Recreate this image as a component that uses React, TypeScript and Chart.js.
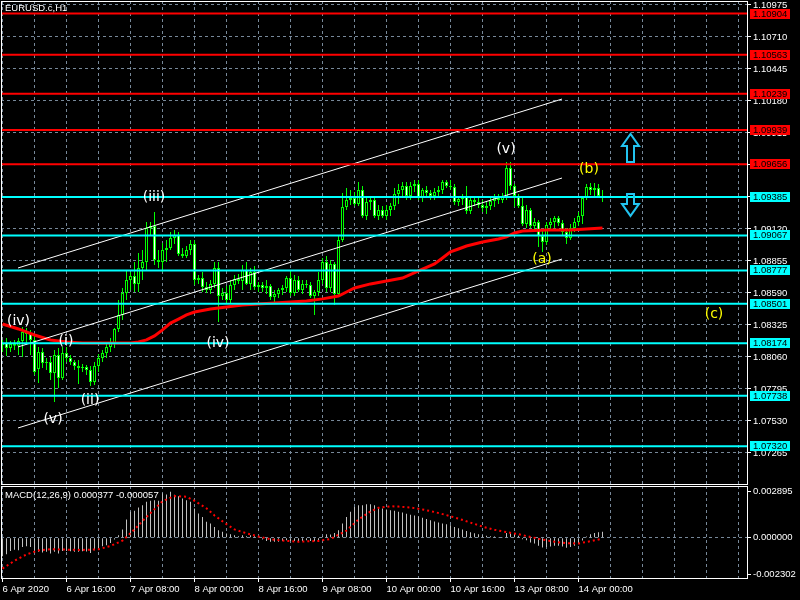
import React, { useEffect, useRef } from "react";
import { Chart, registerables } from "chart.js";

Chart.register(...registerables);

// ---------------- data (EURUSD.c, H1, one value per hourly bar) ----------------
const opens = [
  1.08160, 1.08176, 1.08135, 1.08168, 1.08152, 1.08193, 1.08267, 1.08250, 1.08201, 1.07960,
  1.08101, 1.08010, 1.08019, 1.07928, 1.08077, 1.07886, 1.08093, 1.08052, 1.08019, 1.07986,
  1.07969, 1.07977, 1.07952, 1.07853, 1.07986, 1.08052, 1.08093, 1.08143, 1.08176, 1.08292,
  1.08408, 1.08590, 1.08698, 1.08731, 1.08665, 1.08797, 1.08847, 1.09128, 1.09145, 1.08863,
  1.08847, 1.08946, 1.08963, 1.09045, 1.09070, 1.08913, 1.08896, 1.08946, 1.08996, 1.08698,
  1.08714, 1.08640, 1.08615, 1.08665, 1.08797, 1.08565, 1.08590, 1.08532, 1.08656, 1.08706,
  1.08689, 1.08780, 1.08665, 1.08764, 1.08640, 1.08656, 1.08631, 1.08648, 1.08557, 1.08582,
  1.08615, 1.08631, 1.08714, 1.08590, 1.08698, 1.08615, 1.08665, 1.08656, 1.08565, 1.08598,
  1.08698, 1.08847, 1.08631, 1.08830, 1.08582, 1.09029, 1.09302, 1.09360, 1.09377, 1.09327,
  1.09443, 1.09228, 1.09344, 1.09360, 1.09228, 1.09277, 1.09228, 1.09277, 1.09310, 1.09410,
  1.09443, 1.09476, 1.09393, 1.09476, 1.09492, 1.09377, 1.09443, 1.09418, 1.09393, 1.09426,
  1.09443, 1.09509, 1.09476, 1.09468, 1.09344, 1.09368, 1.09385, 1.09269, 1.09360, 1.09344,
  1.09319, 1.09294, 1.09310, 1.09352, 1.09377, 1.09360, 1.09385, 1.09625, 1.09476, 1.09393,
  1.09310, 1.09161, 1.09277, 1.09145, 1.09178, 1.09062, 1.09012, 1.09153, 1.09178, 1.09211,
  1.09170, 1.09095, 1.09045, 1.09128, 1.09178, 1.09228, 1.09377, 1.09468, 1.09443, 1.09459,
  1.09393,
];
const highs = [
  1.08201, 1.08218, 1.08193, 1.08201, 1.08218, 1.08308, 1.08300, 1.08284, 1.08242, 1.08143,
  1.08135, 1.08052, 1.08060, 1.08118, 1.08135, 1.08143, 1.08143, 1.08077, 1.08035, 1.08035,
  1.08002, 1.07994, 1.07986, 1.08019, 1.08085, 1.08118, 1.08168, 1.08218, 1.08300, 1.08532,
  1.08631, 1.08780, 1.08764, 1.08847, 1.08921, 1.08946, 1.09178, 1.09178, 1.09261, 1.08946,
  1.09004, 1.09029, 1.09095, 1.09112, 1.09095, 1.08963, 1.08979, 1.09029, 1.09029, 1.08739,
  1.08764, 1.08681, 1.08698, 1.08847, 1.08847, 1.08631, 1.08648, 1.08698, 1.08739, 1.08747,
  1.08822, 1.08847, 1.08797, 1.08814, 1.08681, 1.08681, 1.08698, 1.08665, 1.08615, 1.08631,
  1.08656, 1.08730, 1.08780, 1.08739, 1.08730, 1.08698, 1.08698, 1.08681, 1.08615, 1.08764,
  1.08880, 1.08896, 1.08863, 1.08847, 1.09062, 1.09418, 1.09459, 1.09443, 1.09426, 1.09509,
  1.09476, 1.09393, 1.09393, 1.09377, 1.09319, 1.09310, 1.09319, 1.09335, 1.09459, 1.09492,
  1.09509, 1.09509, 1.09509, 1.09526, 1.09526, 1.09459, 1.09476, 1.09443, 1.09459, 1.09476,
  1.09526, 1.09526, 1.09526, 1.09492, 1.09393, 1.09410, 1.09476, 1.09393, 1.09393, 1.09377,
  1.09360, 1.09344, 1.09377, 1.09410, 1.09410, 1.09418, 1.09675, 1.09675, 1.09492, 1.09410,
  1.09377, 1.09319, 1.09294, 1.09211, 1.09194, 1.09112, 1.09178, 1.09211, 1.09228, 1.09228,
  1.09194, 1.09128, 1.09161, 1.09211, 1.09261, 1.09393, 1.09492, 1.09501, 1.09501, 1.09492,
  1.09443,
];
const lows = [
  1.08101, 1.08069, 1.08101, 1.08118, 1.08077, 1.08060, 1.08160, 1.08077, 1.07911, 1.07845,
  1.07969, 1.07952, 1.07870, 1.07688, 1.07803, 1.07870, 1.08019, 1.07994, 1.07952, 1.07837,
  1.07935, 1.07911, 1.07820, 1.07828, 1.07935, 1.08019, 1.08052, 1.08101, 1.08135, 1.08267,
  1.08366, 1.08532, 1.08615, 1.08598, 1.08598, 1.08698, 1.08780, 1.09062, 1.08822, 1.08797,
  1.08764, 1.08847, 1.08946, 1.08996, 1.08896, 1.08880, 1.08880, 1.08905, 1.08656, 1.08665,
  1.08598, 1.08590, 1.08582, 1.08631, 1.08350, 1.08532, 1.08499, 1.08507, 1.08615, 1.08665,
  1.08615, 1.08656, 1.08615, 1.08615, 1.08598, 1.08598, 1.08582, 1.08532, 1.08516, 1.08549,
  1.08574, 1.08598, 1.08565, 1.08565, 1.08598, 1.08582, 1.08631, 1.08549, 1.08408, 1.08565,
  1.08665, 1.08598, 1.08598, 1.08491, 1.08565, 1.09012, 1.09277, 1.09319, 1.09310, 1.09310,
  1.09211, 1.09194, 1.09277, 1.09211, 1.09194, 1.09211, 1.09194, 1.09228, 1.09277, 1.09327,
  1.09393, 1.09360, 1.09360, 1.09426, 1.09360, 1.09344, 1.09393, 1.09360, 1.09360, 1.09393,
  1.09410, 1.09459, 1.09443, 1.09319, 1.09310, 1.09319, 1.09244, 1.09244, 1.09310, 1.09294,
  1.09261, 1.09244, 1.09277, 1.09302, 1.09327, 1.09335, 1.09360, 1.09443, 1.09302, 1.09294,
  1.09145, 1.09128, 1.09128, 1.09095, 1.08971, 1.08930, 1.08987, 1.09112, 1.09128, 1.09145,
  1.09070, 1.08996, 1.09029, 1.09095, 1.09145, 1.09161, 1.09360, 1.09401, 1.09393, 1.09385,
  1.09344,
];
const closes = [
  1.08176, 1.08135, 1.08168, 1.08152, 1.08193, 1.08267, 1.08250, 1.08201, 1.07935, 1.08101,
  1.08010, 1.08019, 1.07928, 1.08077, 1.07886, 1.08093, 1.08052, 1.08019, 1.07986, 1.07969,
  1.07977, 1.07952, 1.07853, 1.07986, 1.08052, 1.08093, 1.08143, 1.08176, 1.08292, 1.08408,
  1.08590, 1.08698, 1.08731, 1.08665, 1.08797, 1.08847, 1.09128, 1.09145, 1.08863, 1.08847,
  1.08946, 1.08963, 1.09045, 1.09070, 1.08913, 1.08896, 1.08946, 1.08996, 1.08698, 1.08714,
  1.08640, 1.08615, 1.08665, 1.08797, 1.08565, 1.08590, 1.08532, 1.08656, 1.08706, 1.08689,
  1.08780, 1.08665, 1.08764, 1.08640, 1.08656, 1.08631, 1.08648, 1.08557, 1.08582, 1.08615,
  1.08631, 1.08714, 1.08590, 1.08698, 1.08615, 1.08665, 1.08656, 1.08565, 1.08598, 1.08698,
  1.08847, 1.08631, 1.08830, 1.08582, 1.09029, 1.09302, 1.09360, 1.09377, 1.09327, 1.09443,
  1.09228, 1.09344, 1.09360, 1.09228, 1.09277, 1.09228, 1.09277, 1.09310, 1.09410, 1.09443,
  1.09476, 1.09393, 1.09476, 1.09492, 1.09377, 1.09443, 1.09418, 1.09393, 1.09426, 1.09443,
  1.09509, 1.09476, 1.09468, 1.09344, 1.09368, 1.09385, 1.09269, 1.09360, 1.09344, 1.09319,
  1.09294, 1.09310, 1.09352, 1.09377, 1.09360, 1.09385, 1.09625, 1.09476, 1.09393, 1.09310,
  1.09161, 1.09277, 1.09145, 1.09178, 1.09062, 1.09012, 1.09153, 1.09178, 1.09211, 1.09170,
  1.09095, 1.09045, 1.09128, 1.09178, 1.09228, 1.09377, 1.09468, 1.09443, 1.09459, 1.09393,
  1.09385,
];

// moving average (red), sampled at bar indices
const maBars = [
  0, 4, 8, 12, 16, 20, 24, 28, 32, 34, 36, 38, 40, 42, 44, 46, 48, 52, 56, 60, 64, 68, 72,
  76, 80, 84, 86, 88, 92, 96, 100, 104, 108, 110, 112, 114, 116, 120, 124, 126, 128, 130,
  136, 142, 146, 150,
];
const maValues = [
  1.08333, 1.08292, 1.08242, 1.08201, 1.08184, 1.08176, 1.08176, 1.08176, 1.08176, 1.08184,
  1.08201, 1.08234, 1.08284, 1.08341, 1.08374, 1.08408, 1.08432, 1.08457, 1.08474, 1.08491,
  1.08499, 1.08507, 1.08516, 1.08524, 1.08541, 1.08565, 1.08598, 1.08631, 1.08665, 1.08689,
  1.08714, 1.08772, 1.08830, 1.08880, 1.08930, 1.08954, 1.08979, 1.09012, 1.09037, 1.09054,
  1.09087, 1.09103, 1.09112, 1.09112, 1.09120, 1.09128,
];

// MACD(12,26,9) main (histogram), one per bar
const macdMain = [
  -0.00116, -0.00104, -0.00083, -0.00075, -0.00079, -0.00058, -0.00054, -0.00058, -0.00096, -0.00089,
  -0.00093, -0.00089, -0.00100, -0.00089, -0.00100, -0.00083, -0.00083, -0.00085, -0.00089, -0.00089,
  -0.00085, -0.00087, -0.00096, -0.00079, -0.00068, -0.00054, -0.00047, -0.00033, -0.00012, 0.00016,
  0.00051, 0.00114, 0.00163, 0.00169, 0.00190, 0.00205, 0.00226, 0.00232, 0.00236, 0.00232,
  0.00280, 0.00272, 0.00289, 0.00270, 0.00261, 0.00247, 0.00236, 0.00226, 0.00184, 0.00152,
  0.00131, 0.00100, 0.00089, 0.00068, 0.00047, 0.00037, 0.00026, 0.00022, 0.00016, 0.00009,
  0.00016, 0.00009, 0.00016, 0.00009, 0.00005, -0.00012, -0.00020, -0.00026, -0.00026, -0.00026,
  -0.00020, -0.00016, -0.00020, -0.00020, -0.00022, -0.00020, -0.00016, -0.00020, -0.00022, -0.00016,
  0.00009, 0.00022, 0.00020, 0.00030, 0.00047, 0.00089, 0.00131, 0.00163, 0.00194, 0.00205,
  0.00205, 0.00211, 0.00211, 0.00205, 0.00194, 0.00184, 0.00177, 0.00173, 0.00169, 0.00163,
  0.00158, 0.00150, 0.00145, 0.00140, 0.00133, 0.00125, 0.00118, 0.00110, 0.00102, 0.00095,
  0.00090, 0.00084, 0.00078, 0.00068, 0.00060, 0.00052, 0.00042, 0.00035, 0.00028, 0.00022,
  0.00016, 0.00012, 0.00009, 0.00007, 0.00005, 0.00004, 0.00030, 0.00032, 0.00025, 0.00012,
  -0.00010, -0.00016, -0.00030, -0.00036, -0.00050, -0.00062, -0.00058, -0.00056, -0.00050, -0.00050,
  -0.00056, -0.00063, -0.00058, -0.00050, -0.00040, -0.00018, 0.00008, 0.00022, 0.00030, 0.00034,
  0.000377,
];
// MACD signal (red dotted), sampled at bar indices
const signalBars = [
  0, 3, 6, 9, 12, 16, 20, 24, 27, 30, 33, 35, 38, 40, 43, 46, 48, 51, 53, 56, 58, 61, 64,
  67, 71, 74, 79, 82, 86, 89, 92, 94, 97, 99, 102, 105, 108, 111, 114, 117, 120, 123, 126,
  129, 132, 135, 138, 141, 144, 147, 150,
];
const signalValues = [
  -0.00194, -0.00145, -0.00105, -0.00080, -0.00072, -0.00075, -0.00077, -0.00073, -0.00052, -0.00018,
  0.00052, 0.00105, 0.00180, 0.00230, 0.00262, 0.00258, 0.00232, 0.00185, 0.00140, 0.00085,
  0.00052, 0.00028, 0.00008, -0.00010, -0.00020, -0.00025, -0.00020, -0.00008, 0.00045, 0.00115,
  0.00165, 0.00188, 0.00198, 0.00196, 0.00190, 0.00178, 0.00162, 0.00142, 0.00120, 0.00095,
  0.00070, 0.00050, 0.00035, 0.00022, 0.00005, -0.00012, -0.00025, -0.00035, -0.00036, -0.00022,
  -0.000057,
];

// horizontal levels
const redLevels = [1.10904, 1.10563, 1.10239, 1.09939, 1.09656];
const cyanLevels = [1.09385, 1.09067, 1.08777, 1.08501, 1.08174, 1.07738, 1.0732];

// axis ticks
const priceTicks = [
  1.10975, 1.1071, 1.10445, 1.1018, 1.09915, 1.0965, 1.09385, 1.0912, 1.08855, 1.0859,
  1.08325, 1.0806, 1.07795, 1.0753, 1.07265,
];
const macdTicks = [0.002895, 0, -0.002302];
const xTickBars = [0, 16, 32, 48, 64, 80, 96, 112, 128, 144];
const xTickLabels = [
  "6 Apr 2020", "6 Apr 16:00", "7 Apr 08:00", "8 Apr 00:00", "8 Apr 16:00",
  "9 Apr 08:00", "10 Apr 00:00", "10 Apr 16:00", "13 Apr 08:00", "14 Apr 00:00",
];

// equidistant channel (bar index, price at start / end)
const channelBars = [3.875, 139.875];
const channelUpper = [1.08797, 1.10196];
const channelMiddle = [1.08143, 1.09542];
const channelLower = [1.07472, 1.08871];

// wave labels
const waveTexts = ["(iv)", "(i)", "(ii)", "(v)", "(iii)", "(iv)", "(v)", "(a)", "(b)", "(c)"];
const waveBars = [4.0, 15.875, 21.875, 12.625, 37.875, 53.875, 125.875, 134.875, 146.625, 177.875];
const wavePrices = [1.08354, 1.08193, 1.077, 1.07543, 1.09381, 1.08176, 1.09778, 1.08867, 1.09613, 1.08416];
const waveColors = ["#ffffff", "#ffffff", "#ffffff", "#ffffff", "#ffffff", "#ffffff", "#ffffff", "#ffff00", "#ffff00", "#ffff00"];

// arrows (bar index, top price, bottom price)
const arrowDirs = ["up", "down"];
const arrowBars = [156.75, 156.75];
const arrowTops = [1.09907, 1.0941];
const arrowBottoms = [1.09675, 1.09228];

// ---------------- styling ----------------
const FONT = '"Liberation Sans", Arial, sans-serif';
const GRID = "#778899";
const X_MIN = -0.375;
const X_MAX = 186.125;
const P_MIN = 1.07008;
const P_MAX = 1.11008;
const M_MIN = -0.002535;
const M_MAX = 0.003254;
const AXIS_W = 53;
const gridBars = Array.from({ length: 24 }, (_, k) => k * 8);

const framePlugin = {
  id: "frame",
  afterDraw(chart: any) {
    const { ctx, chartArea: a } = chart;
    ctx.save();
    ctx.strokeStyle = "#ffffff";
    ctx.lineWidth = 1;
    ctx.strokeRect(a.left + 0.5, a.top + 0.5, a.right - a.left, a.bottom - a.top);
    ctx.restore();
  },
};

const mainOverlay = {
  id: "mainOverlay",
  afterDatasetsDraw(chart: any) {
    const { ctx, chartArea: a } = chart;
    const xs = chart.scales.x;
    const ys = chart.scales.y;
    ctx.save();
    ctx.beginPath();
    ctx.rect(a.left, a.top, a.right - a.left, a.bottom - a.top);
    ctx.clip();
    ctx.font = '14px "DejaVu Sans", sans-serif';
    ctx.textAlign = "center";
    ctx.textBaseline = "middle";
    waveTexts.forEach((t, k) => {
      ctx.fillStyle = waveColors[k];
      ctx.fillText(t, xs.getPixelForValue(waveBars[k]), ys.getPixelForValue(wavePrices[k]));
    });
    arrowDirs.forEach((dir, k) => {
      const cx = Math.round(xs.getPixelForValue(arrowBars[k])) + 0.5;
      const top = ys.getPixelForValue(arrowTops[k]);
      const bot = ys.getPixelForValue(arrowBottoms[k]);
      const hw = 8.5, sw = 3.5, hh = 12;
      ctx.beginPath();
      if (dir === "up") {
        ctx.moveTo(cx, top);
        ctx.lineTo(cx + hw, top + hh);
        ctx.lineTo(cx + sw, top + hh);
        ctx.lineTo(cx + sw, bot);
        ctx.lineTo(cx - sw, bot);
        ctx.lineTo(cx - sw, top + hh);
        ctx.lineTo(cx - hw, top + hh);
      } else {
        ctx.moveTo(cx, bot);
        ctx.lineTo(cx + hw, bot - hh);
        ctx.lineTo(cx + sw, bot - hh);
        ctx.lineTo(cx + sw, top);
        ctx.lineTo(cx - sw, top);
        ctx.lineTo(cx - sw, bot - hh);
        ctx.lineTo(cx - hw, bot - hh);
      }
      ctx.closePath();
      ctx.strokeStyle = "#22c4f0";
      ctx.lineWidth = 2;
      ctx.stroke();
    });
    ctx.restore();
  },
  afterDraw(chart: any) {
    const { ctx, chartArea: a } = chart;
    const ys = chart.scales.y;
    ctx.save();
    ctx.font = `9.5px ${FONT}`;
    ctx.textAlign = "left";
    ctx.textBaseline = "middle";
    ctx.fillStyle = "#ffffff";
    ctx.fillText("EURUSD.c,H1", 5, 8.5);
    const drawBox = (lvl: number, bg: string) => {
      const yy = Math.round(ys.getPixelForValue(lvl));
      ctx.fillStyle = bg;
      ctx.fillRect(a.right + 3, yy - 5, 40, 10);
      ctx.fillStyle = "#000000";
      ctx.fillText(lvl.toFixed(5), a.right + 6, yy + 0.5);
    };
    redLevels.forEach((l) => drawBox(l, "#ff0000"));
    cyanLevels.forEach((l) => drawBox(l, "#00ffff"));
    ctx.restore();
  },
};

const macdOverlay = {
  id: "macdOverlay",
  afterDraw(chart: any) {
    const { ctx } = chart;
    ctx.save();
    ctx.font = `9.5px ${FONT}`;
    ctx.textAlign = "left";
    ctx.textBaseline = "middle";
    ctx.fillStyle = "#ffffff";
    const mainLast = macdMain[macdMain.length - 1];
    const sigLast = signalValues[signalValues.length - 1];
    ctx.fillText(`MACD(12,26,9) ${mainLast.toFixed(6)} ${sigLast.toFixed(6)}`, 5, 10);
    ctx.restore();
  },
};

export default function App() {
  const mainRef = useRef<HTMLCanvasElement>(null);
  const macdRef = useRef<HTMLCanvasElement>(null);

  useEffect(() => {
    document.body.style.margin = "0";
    document.body.style.background = "#000";
    const bars = opens.map((_, i) => i);

    const levelSets = [
      ...redLevels.map((l) => ({ color: "#ff0000", l })),
      ...cyanLevels.map((l) => ({ color: "#00ffff", l })),
    ].map((o) => ({
      type: "line",
      data: [{ x: X_MIN, y: o.l }, { x: X_MAX, y: o.l }],
      borderColor: o.color,
      borderWidth: 2,
      pointRadius: 0,
      order: 0,
    }));

    const channelSets = [channelUpper, channelMiddle, channelLower].map((pr) => ({
      type: "line",
      data: [{ x: channelBars[0], y: pr[0] }, { x: channelBars[1], y: pr[1] }],
      borderColor: "#ffffff",
      borderWidth: 1,
      pointRadius: 0,
      order: 1,
    }));

    const mainCfg: any = {
      type: "bar",
      data: {
        datasets: [
          ...levelSets,
          ...channelSets,
          {
            type: "line",
            data: maBars.map((b, k) => ({ x: b, y: maValues[k] })),
            borderColor: "#ff0000",
            borderWidth: 3,
            pointRadius: 0,
            order: 2,
          },
          {
            type: "bar",
            data: bars.map((i) => ({ x: i, y: [opens[i], closes[i]] })),
            backgroundColor: bars.map((i) => (closes[i] >= opens[i] ? "#000000" : "#ffffff")),
            borderColor: "#00ff00",
            borderWidth: 1,
            borderSkipped: false,
            barThickness: 3,
            grouped: false,
            inflateAmount: 0,
            order: 3,
          },
          {
            type: "bar",
            data: bars.map((i) => ({ x: i, y: [lows[i], highs[i]] })),
            backgroundColor: "#00ff00",
            borderWidth: 0,
            barThickness: 1,
            grouped: false,
            inflateAmount: 0,
            order: 4,
          },
        ],
      },
      options: {
        animation: false,
        responsive: false,
        maintainAspectRatio: false,
        events: [],
        layout: { padding: { left: 1, top: 1, right: 0, bottom: 1 } },
        plugins: { legend: { display: false }, tooltip: { enabled: false } },
        scales: {
          x: {
            type: "linear",
            position: "bottom",
            min: X_MIN,
            max: X_MAX,
            offset: false,
            grid: { color: GRID, lineWidth: 1, drawTicks: false, offset: false },
            border: { display: false, dash: [3, 3] },
            ticks: { display: false },
            afterBuildTicks: (s: any) => {
              s.ticks = gridBars.map((v) => ({ value: v }));
            },
          },
          y: {
            type: "linear",
            position: "right",
            min: P_MIN,
            max: P_MAX,
            beginAtZero: false,
            grid: { color: GRID, lineWidth: 1, drawTicks: true, tickLength: 4, tickColor: "#ffffff" },
            border: { display: false, dash: [3, 3] },
            ticks: {
              color: "#ffffff",
              font: { family: FONT, size: 9.5 },
              padding: 2,
              autoSkip: false,
              callback: (v: number) => Number(v).toFixed(5),
            },
            afterBuildTicks: (s: any) => {
              s.ticks = priceTicks.map((v) => ({ value: v }));
            },
            afterFit: (s: any) => {
              s.width = AXIS_W;
              s.paddingTop = 0;
              s.paddingBottom = 0;
            },
          },
        },
      },
      plugins: [framePlugin, mainOverlay],
    };

    const macdCfg: any = {
      type: "bar",
      data: {
        datasets: [
          {
            type: "line",
            data: signalBars.map((b, k) => ({ x: b, y: signalValues[k] })),
            borderColor: "#ff0000",
            borderWidth: 2,
            borderDash: [2, 3],
            pointRadius: 0,
            order: 1,
          },
          {
            type: "bar",
            data: bars.map((i) => ({ x: i, y: macdMain[i] })),
            backgroundColor: "#c0c0c0",
            borderWidth: 0,
            barThickness: 1,
            grouped: false,
            inflateAmount: 0,
            order: 2,
          },
        ],
      },
      options: {
        animation: false,
        responsive: false,
        maintainAspectRatio: false,
        events: [],
        layout: { padding: { left: 1, top: 1, right: 0, bottom: 0 } },
        plugins: { legend: { display: false }, tooltip: { enabled: false } },
        scales: {
          x: {
            type: "linear",
            position: "bottom",
            min: X_MIN,
            max: X_MAX,
            offset: false,
            grid: {
              color: GRID,
              lineWidth: 1,
              drawTicks: true,
              tickLength: 4,
              offset: false,
              tickColor: (c: any) => (c.tick && xTickBars.includes(c.tick.value) ? "#ffffff" : "rgba(0,0,0,0)"),
            },
            border: { display: false, dash: [3, 3] },
            ticks: {
              color: "#ffffff",
              font: { family: FONT, size: 9.5 },
              padding: 2,
              align: "start",
              maxRotation: 0,
              minRotation: 0,
              autoSkip: false,
              callback: (v: number) => {
                const k = xTickBars.indexOf(v);
                return k >= 0 ? xTickLabels[k] : "";
              },
            },
            afterBuildTicks: (s: any) => {
              s.ticks = gridBars.map((v) => ({ value: v }));
            },
            afterFit: (s: any) => {
              s.height = 22;
              s.paddingLeft = 0;
              s.paddingRight = 0;
            },
          },
          y: {
            type: "linear",
            position: "right",
            min: M_MIN,
            max: M_MAX,
            beginAtZero: false,
            grid: {
              color: (c: any) => (c.tick && c.tick.value === 0 ? GRID : "rgba(0,0,0,0)"),
              lineWidth: 1,
              drawTicks: true,
              tickLength: 4,
              tickColor: "#ffffff",
            },
            border: { display: false, dash: [3, 3] },
            ticks: {
              color: "#ffffff",
              font: { family: FONT, size: 9.5 },
              padding: 2,
              autoSkip: false,
              callback: (v: number) => Number(v).toFixed(6),
            },
            afterBuildTicks: (s: any) => {
              s.ticks = macdTicks.map((v) => ({ value: v }));
            },
            afterFit: (s: any) => {
              s.width = AXIS_W;
              s.paddingTop = 0;
              s.paddingBottom = 0;
            },
          },
        },
      },
      plugins: [framePlugin, macdOverlay],
    };

    const c1 = new Chart(mainRef.current as HTMLCanvasElement, mainCfg);
    const c2 = new Chart(macdRef.current as HTMLCanvasElement, macdCfg);
    return () => {
      c1.destroy();
      c2.destroy();
    };
  }, []);

  return (
    <div style={{ position: "fixed", left: 0, top: 0, width: 800, height: 600, background: "#000" }}>
      <canvas ref={mainRef} width={800} height={485} style={{ position: "absolute", left: 0, top: 0 }} />
      <canvas ref={macdRef} width={800} height={115} style={{ position: "absolute", left: 0, top: 485 }} />
    </div>
  );
}
